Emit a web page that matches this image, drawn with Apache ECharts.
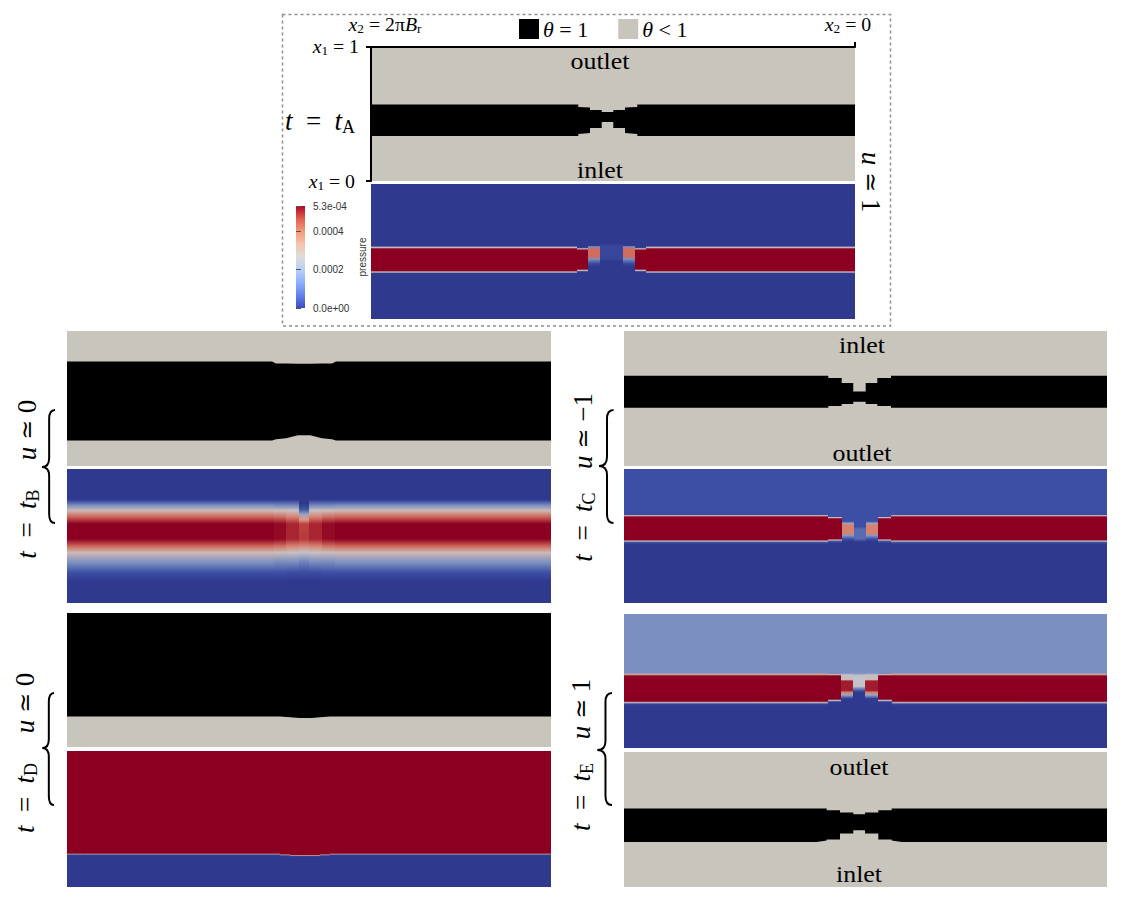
<!DOCTYPE html>
<html><head><meta charset="utf-8"><title>theta / pressure fields</title>
<script src="https://cdn.jsdelivr.net/npm/echarts@6.0.0/dist/echarts.min.js"></script>
<style>html,body{margin:0;padding:0;background:#fff;}#chart{width:1132px;height:903px;}</style>
</head><body><div id="chart"></div>
<script>
// ================= DATA =================
const pressureMax = 5.3e-4;
const colorbarTicks = [0, 0.0002, 0.0004, 0.00053];
const colorbarTickLabels = ['0.0e+00', '0.0002', '0.0004', '5.3e-04'];
const legendNames = ['θ = 1', 'θ < 1'];
const panelNames = ['A', 'B', 'C', 'D', 'E'];
const panelU = ['1', '0', '−1', '0', '1'];

// theta = 1 region: s = position across the panel (0 left .. 1 right), lo/hi = x1 bounds (0 bottom .. 1 top)
const thetaA_s  = [0, 0.4283, 0.4283, 0.4525, 0.4525, 0.4767, 0.4767, 0.5006, 0.5006, 0.5248, 0.5248, 0.5502, 0.5502, 1];
const thetaA_hi = [0.571, 0.571, 0.552, 0.549, 0.530, 0.530, 0.515, 0.515, 0.530, 0.530, 0.549, 0.552, 0.571, 0.571];
const thetaA_lo = [0.336, 0.336, 0.351, 0.358, 0.396, 0.396, 0.440, 0.440, 0.396, 0.396, 0.358, 0.351, 0.336, 0.336];

const thetaB_s  = [0, 0.4236, 0.4318, 0.4525, 0.4773, 0.5021, 0.5269, 0.5475, 0.5558, 1];
const thetaB_hi = [0.774, 0.774, 0.760, 0.759, 0.758, 0.758, 0.759, 0.760, 0.774, 0.774];
const thetaB_lo = [0.188, 0.188, 0.198, 0.205, 0.228, 0.228, 0.205, 0.198, 0.188, 0.188];

const thetaC_s  = [0, 0.4230, 0.4230, 0.4507, 0.4507, 0.4747, 0.4747, 0.5004, 0.5004, 0.5244, 0.5244, 0.5528, 0.5528, 1];
const thetaC_hi = [0.669, 0.669, 0.652, 0.652, 0.614, 0.614, 0.551, 0.551, 0.614, 0.614, 0.652, 0.652, 0.669, 0.669];
const thetaC_lo = [0.431, 0.431, 0.444, 0.444, 0.459, 0.459, 0.476, 0.476, 0.459, 0.459, 0.444, 0.444, 0.431, 0.431];

const thetaD_s  = [0, 0.440, 0.4607, 0.4814, 0.5062, 0.5227, 0.5434, 1];
const thetaD_hi = [1, 1, 1, 1, 1, 1, 1, 1];
const thetaD_lo = [0.228, 0.228, 0.222, 0.216, 0.216, 0.222, 0.228, 0.228];

const thetaE_s  = [0, 0.399, 0.4197, 0.4197, 0.4472, 0.4472, 0.4747, 0.4747, 0.4990, 0.4990, 0.5265, 0.5265, 0.5542, 0.5542, 0.575, 1];
const thetaE_hi = [0.581, 0.581, 0.581, 0.568, 0.568, 0.551, 0.551, 0.539, 0.539, 0.551, 0.551, 0.568, 0.568, 0.581, 0.581, 0.581];
const thetaE_lo = [0.333, 0.333, 0.345, 0.351, 0.351, 0.396, 0.396, 0.420, 0.420, 0.396, 0.396, 0.351, 0.351, 0.345, 0.333, 0.333];

// pressure profiles: [x1 (1 top .. 0 bottom), pressure]
const pA_far    = [[1,0],[0.541,0],[0.530,0.00028],[0.519,0.00053],[0.359,0.00053],[0.348,0.00028],[0.337,0],[0,0]];
const pA_narrow = [[1,0],[0.530,0],[0.520,0.00028],[0.510,0.00053],[0.370,0.00053],[0.360,0.00028],[0.350,0],[0,0]];
const pA_neck   = [[1,0],[0.545,0],[0.535,0.00016],[0.520,0.00042],[0.460,0.00042],[0.445,0.00016],[0.410,0.00004],[0.390,0],[0,0]];
const pA_center = [[1,0],[0.560,0],[0.545,0.00003],[0.450,0.00003],[0.430,0],[0,0]];
// columns: [s0, s1, profile index]
const pA_cols = [[0,0.4246,0],[0.4246,0.4483,1],[0.4483,0.4731,2],[0.4731,0.5207,3],[0.5207,0.5455,2],[0.5455,0.5692,1],[0.5692,1,0]];

const pB_far = [[1,0],[0.776,0],[0.765,0.00003],[0.728,0.00016],[0.690,0.0003],[0.642,0.00043],[0.590,0.00053],[0.478,0.00053],[0.427,0.00043],[0.377,0.0003],[0.302,0.00016],[0.227,0.00005],[0.164,0],[0,0]];
const pB_n1  = [[1,0],[0.776,0],[0.765,0.00003],[0.728,0.00015],[0.690,0.00029],[0.642,0.00042],[0.590,0.00052],[0.478,0.00052],[0.427,0.00042],[0.377,0.00029],[0.302,0.00015],[0.227,0.00005],[0.164,0],[0,0]];
const pB_n2  = [[1,0],[0.776,0],[0.765,0.00003],[0.728,0.00015],[0.690,0.00028],[0.642,0.0004],[0.590,0.00049],[0.478,0.00049],[0.427,0.0004],[0.377,0.00028],[0.302,0.00015],[0.227,0.00004],[0.164,0],[0,0]];
const pB_n3  = [[1,0],[0.740,0],[0.700,0.00006],[0.660,0.0002],[0.620,0.00038],[0.590,0.00046],[0.478,0.00047],[0.430,0.0004],[0.380,0.00027],[0.300,0.00013],[0.227,0.00004],[0.164,0],[0,0]];
const pB_cols = [[0,0.4269,0],[0.4269,0.4525,1],[0.4525,0.4785,2],[0.4785,0.5008,3],[0.5008,0.5269,2],[0.5269,0.5527,1],[0.5527,1,0]];

const pC_far    = [[1,0.00005],[0.660,0.00005],[0.652,0.0003],[0.642,0.00053],[0.472,0.00053],[0.462,0.00028],[0.452,0.00006],[0.440,0],[0,0]];
const pC_narrow = [[1,0.00005],[0.645,0.00005],[0.638,0.0003],[0.628,0.00053],[0.480,0.00053],[0.470,0.0003],[0.460,0.00006],[0.445,0],[0,0]];
const pC_neck   = [[1,0.00005],[0.610,0.00005],[0.595,0.0002],[0.580,0.0004],[0.520,0.0004],[0.505,0.00018],[0.480,0.00006],[0.460,0],[0,0]];
const pC_center = [[1,0.00005],[0.570,0.00005],[0.550,0.0001],[0.480,0.0001],[0.460,0.00002],[0.450,0],[0,0]];
const pC_cols = [[0,0.4224,0],[0.4224,0.4513,1],[0.4513,0.4756,2],[0.4756,0.5010,3],[0.5010,0.5259,2],[0.5259,0.5518,1],[0.5518,1,0]];

const pD_far    = [[1,0.00053],[0.248,0.00053],[0.242,0.0003],[0.236,0],[0,0]];
const pD_mid    = [[1,0.00053],[0.242,0.00053],[0.236,0.0003],[0.230,0],[0,0]];
const pD_center = [[1,0.00053],[0.236,0.00053],[0.230,0.0003],[0.224,0],[0,0]];
const pD_cols = [[0,0.440,0],[0.440,0.4607,1],[0.4607,0.5227,2],[0.5227,0.5434,1],[0.5434,1,0]];

const pE_far    = [[1,0.00016],[0.560,0.00016],[0.550,0.00033],[0.537,0.00053],[0.350,0.00053],[0.338,0.00025],[0.328,0.00002],[0.310,0],[0,0]];
const pE_narrow = [[1,0.00016],[0.555,0.00016],[0.548,0.00033],[0.538,0.00053],[0.365,0.00053],[0.355,0.00025],[0.345,0.00002],[0.330,0],[0,0]];
const pE_neck   = [[1,0.00016],[0.560,0.00016],[0.545,0.00026],[0.510,0.0003],[0.500,0.0005],[0.430,0.0005],[0.415,0.0004],[0.395,0.0002],[0.370,0.00002],[0.360,0],[0,0]];
const pE_center = [[1,0.00016],[0.560,0.00016],[0.540,0.00026],[0.460,0.00026],[0.440,0.00012],[0.420,0.00001],[0.410,0],[0,0]];
const pE_cols = [[0,0.423,0],[0.423,0.4487,1],[0.4487,0.4747,2],[0.4747,0.499,3],[0.499,0.5265,2],[0.5265,0.5542,1],[0.5542,1,0]];

// ================= STYLE / LAYOUT =================
const SERIF = "'Liberation Serif','DejaVu Serif','Times New Roman',serif";
const SANS = "'Liberation Sans','DejaVu Sans',Arial,sans-serif";
const GRAY = '#c8c5bd';
const FIELD_STOPS = [[0,[47,58,143]],[0.1,[62,80,165]],[0.3,[122,143,192]],[0.5,[196,196,202]],[0.7,[226,160,136]],[0.85,[196,76,68]],[1,[139,0,32]]];
const BAR_STOPS = [[0,'#3b4cc0'],[0.125,'#6282ea'],[0.25,'#8db0fe'],[0.375,'#b8d0f9'],[0.5,'#dddddd'],[0.625,'#f5c4ad'],[0.75,'#f49a7b'],[0.875,'#de604d'],[1,'#b40426']];

function fieldColor(p){
  const t = Math.max(0, Math.min(1, p / pressureMax));
  for (let i = 1; i < FIELD_STOPS.length; i++){
    const [t1, c1] = FIELD_STOPS[i];
    if (t <= t1 + 1e-12){
      const [t0, c0] = FIELD_STOPS[i-1];
      const u = (t - t0) / (t1 - t0);
      const c = c0.map((v, k) => Math.round(v + (c1[k] - v) * u));
      return 'rgb(' + c.join(',') + ')';
    }
  }
  return 'rgb(139,0,32)';
}

const L = {
  A_theta:[371,47,484,134], A_p:[371,184,484,135], cbar:[296,206,9,102],
  B_theta:[67,331,484,135], B_p:[67,469,484,134],
  C_theta:[624,331,483,135], C_p:[624,469,483,134],
  D_theta:[67,613,484,134], D_p:[67,751,484,136],
  E_p:[624,614,483,134], E_theta:[624,752,483,135]
};

const grids = [], xAxes = [], yAxes = [], series = [];
function addGrid(r, xo, yo){
  const gi = grids.length;
  grids.push({left:r[0], top:r[1], width:r[2], height:r[3], containLabel:false, outerBoundsMode:'none'});
  xAxes.push(Object.assign({type:'value', gridIndex:gi, min:0, max:1, show:false, splitLine:{show:false}}, xo || {}));
  yAxes.push(Object.assign({type:'value', gridIndex:gi, min:0, max:1, show:false, splitLine:{show:false}}, yo || {}));
  return gi;
}

function addTheta(gi, s, lo, hi, named){
  const bg = {type:'custom', xAxisIndex:gi, yAxisIndex:gi, silent:true, z:2,
    itemStyle:{color:GRAY}, data:[[0,0,1,1]], encode:{x:[0,2], y:[1,3]},
    renderItem:(p, api) => {
      const a = api.coord([api.value(0), api.value(3)]), b = api.coord([api.value(2), api.value(1)]);
      return {type:'rect', shape:{x:a[0], y:a[1], width:b[0]-a[0], height:b[1]-a[1]}, style:{fill:GRAY}};
    }};
  const band = {type:'custom', xAxisIndex:gi, yAxisIndex:gi, silent:true, z:3,
    itemStyle:{color:'#000'}, data:s.map((v,i) => [v, lo[i], hi[i]]), encode:{x:0, y:[1,2]},
    renderItem:(p, api) => {
      if (p.dataIndexInside !== 0) return null;
      const n = p.dataInsideLength, top = [], bot = [];
      for (let i = 0; i < n; i++){
        top.push(api.coord([api.value(0,i), api.value(2,i)]));
        bot.push(api.coord([api.value(0,i), api.value(1,i)]));
      }
      return {type:'polygon', shape:{points: top.concat(bot.reverse())}, style:{fill:'#000'}};
    }};
  if (named){ bg.name = legendNames[1]; band.name = legendNames[0]; }
  series.push(bg, band);
}

function addPressure(gi, cols, profiles){
  series.push({type:'custom', xAxisIndex:gi, yAxisIndex:gi, silent:true, z:2,
    data: cols, dimensions:['s0','s1','k'], encode:{x:[0,1]},
    renderItem:(p, api) => {
      const s0 = api.value(0), s1 = api.value(1), k = api.value(2);
      const a = api.coord([s0, 1]), b = api.coord([s1, 0]);
      const x0 = Math.round(a[0]), x1 = Math.round(b[0]);
      const stops = profiles[k].map(([f, pr]) => ({offset: 1 - f, color: fieldColor(pr)}));
      return {type:'rect', shape:{x:x0, y:a[1], width:x1 - x0, height:b[1]-a[1]},
        style:{fill: new echarts.graphic.LinearGradient(0,0,0,1, stops)}};
    }});
}

// panel A (with axes)
const gA = addGrid(L.A_theta,
  {show:true, position:'top', z:10, axisLine:{show:true, onZero:false, lineStyle:{color:'#000', width:2}},
   axisTick:{show:true, customValues:[1], length:5, lineStyle:{color:'#000', width:2}}, axisLabel:{show:false}},
  {show:true, position:'left', z:10, axisLine:{show:true, onZero:false, lineStyle:{color:'#000', width:2}},
   axisTick:{show:true, customValues:[0,1], length:5, lineStyle:{color:'#000', width:2}}, axisLabel:{show:false}});
addTheta(gA, thetaA_s, thetaA_lo, thetaA_hi, true);
addPressure(addGrid(L.A_p), pA_cols, [pA_far, pA_narrow, pA_neck, pA_center]);

// colour bar
const gBar = addGrid(L.cbar, {}, {
  show:true, position:'right', min:0, max:pressureMax, z:10,
  axisLine:{show:false}, splitLine:{show:false},
  axisTick:{show:true, customValues:colorbarTicks, length:5, lineStyle:{color:'#555', width:1}},
  axisLabel:{show:true, customValues:colorbarTicks, margin:8, fontSize:10, fontFamily:SANS, color:'#333',
    formatter:(v) => { const i = colorbarTicks.findIndex(t => Math.abs(t - v) < 1e-9); return i >= 0 ? colorbarTickLabels[i] : ''; }},
  name:'pressure', nameLocation:'middle', nameRotate:90, nameGap:52,
  nameTextStyle:{fontSize:10, fontFamily:SANS, color:'#333'}
});
series.push({type:'custom', xAxisIndex:gBar, yAxisIndex:gBar, silent:true, data:[[0, 0, 1, pressureMax]], encode:{x:[0,2], y:[1,3]},
  renderItem:(p, api) => {
    const a = api.coord([api.value(0), api.value(3)]), b = api.coord([api.value(2), api.value(1)]);
    const stops = BAR_STOPS.map(([t, c]) => ({offset: 1 - t, color: c})).reverse();
    return {type:'rect', shape:{x:a[0], y:a[1], width:b[0]-a[0], height:b[1]-a[1]}, style:{fill:new echarts.graphic.LinearGradient(0,0,0,1,stops)}};
  }});

addTheta(addGrid(L.B_theta), thetaB_s, thetaB_lo, thetaB_hi, false);
addPressure(addGrid(L.B_p), pB_cols, [pB_far, pB_n1, pB_n2, pB_n3]);
addTheta(addGrid(L.C_theta), thetaC_s, thetaC_lo, thetaC_hi, false);
addPressure(addGrid(L.C_p), pC_cols, [pC_far, pC_narrow, pC_neck, pC_center]);
addTheta(addGrid(L.D_theta), thetaD_s, thetaD_lo, thetaD_hi, false);
addPressure(addGrid(L.D_p), pD_cols, [pD_far, pD_mid, pD_center]);
addPressure(addGrid(L.E_p), pE_cols, [pE_far, pE_narrow, pE_neck, pE_center]);
addTheta(addGrid(L.E_theta), thetaE_s, thetaE_lo, thetaE_hi, false);

// ---------- text / annotations ----------
function rs(size){
  const sub = Math.round(size * 0.68), pad = Math.round(size * 0.42);
  const base = {fill:'#000', color:'#000'};
  return {
    i: Object.assign({fontFamily:SERIF, fontStyle:'italic', fontSize:size}, base),
    r: Object.assign({fontFamily:SERIF, fontSize:size}, base),
    m: Object.assign({fontFamily:"'DejaVu Serif',serif", fontSize:Math.round(size*0.9)}, base),
    sr: Object.assign({fontFamily:SERIF, fontSize:sub, padding:[pad,0,0,0]}, base)
  };
}
function gtext(x, y, text, size, rot, align, sx){
  return {type:'text', x:x, y:y, z:100, rotation:rot || 0, scaleX:sx || 1,
    style:{text:text, rich:rs(size), fontSize:size, fontFamily:SERIF, fill:'#000',
      align:align || 'center', verticalAlign:'middle', textAlign:align || 'center', textVerticalAlign:'middle'}};
}
const EN = '\u2002';
function tEq(n){ return '{i|t}{r|' + EN + '=' + EN + '}{i|t}{sr|' + n + '}'; }
function uEq(v){ return '{i|u}{r| }{m|≃}{r| ' + v + '}'; }

function brace(xl, xr, y0, ym, y1){
  const xm = xl + (xr - xl) * 0.55, h = 9;
  const st = {stroke:'#000', lineWidth:2, fill:null};
  return [
    {type:'bezierCurve', z:100, shape:{x1:xr, y1:y0, x2:xm, y2:y0+h, cpx1:xm, cpy1:y0}, style:st},
    {type:'line', z:100, shape:{x1:xm, y1:y0+h, x2:xm, y2:ym-h}, style:st},
    {type:'bezierCurve', z:100, shape:{x1:xm, y1:ym-h, x2:xl, y2:ym, cpx1:xm, cpy1:ym}, style:st},
    {type:'bezierCurve', z:100, shape:{x1:xl, y1:ym, x2:xm, y2:ym+h, cpx1:xm, cpy1:ym}, style:st},
    {type:'line', z:100, shape:{x1:xm, y1:ym+h, x2:xm, y2:y1-h}, style:st},
    {type:'bezierCurve', z:100, shape:{x1:xm, y1:y1-h, x2:xr, y2:y1, cpx1:xm, cpy1:y1}, style:st}
  ];
}

const graphics = [
  {type:'rect', z:1, shape:{x:282.5, y:14.5, width:608, height:311.5}, style:{fill:null, stroke:'#8f8f8f', lineWidth:1.5, lineDash:[3,3]}},
  gtext(385, 25, '{i|x}{sr|2}{r| = 2π}{i|B}{sr|r}', 18, 0, 'center', 1.1),
  gtext(848, 25, '{i|x}{sr|2}{r| = 0}', 18, 0, 'center', 1.1),
  gtext(359, 47, '{i|x}{sr|1}{r| = 1}', 18, 0, 'right', 1.1),
  gtext(355, 182, '{i|x}{sr|1}{r| = 0}', 18, 0, 'right', 1.1),
  gtext(320, 121, tEq(panelNames[0]), 27),
  gtext(871, 182, uEq(panelU[0]), 27, -Math.PI/2),
  gtext(600, 61, '{r|outlet}', 24, 0, 'center', 1.08),
  gtext(600, 170, '{r|inlet}', 24, 0, 'center', 1.08),
  gtext(862, 345, '{r|inlet}', 24, 0, 'center', 1.08),
  gtext(862, 453, '{r|outlet}', 24, 0, 'center', 1.08),
  gtext(859, 767, '{r|outlet}', 24, 0, 'center', 1.08),
  gtext(859, 874, '{r|inlet}', 24, 0, 'center', 1.08),
  gtext(27, 524, tEq(panelNames[1]), 27, Math.PI/2),
  gtext(27, 430, uEq(panelU[1]), 27, Math.PI/2),
  gtext(583, 527, tEq(panelNames[2]), 27, Math.PI/2),
  gtext(583, 431, uEq(panelU[2]), 27, Math.PI/2),
  gtext(25, 798, tEq(panelNames[3]), 27, Math.PI/2),
  gtext(25, 703, uEq(panelU[3]), 27, Math.PI/2),
  gtext(581, 797, tEq(panelNames[4]), 27, Math.PI/2),
  gtext(581, 709, uEq(panelU[4]), 27, Math.PI/2)
].concat(brace(42, 55, 410, 467, 523), brace(599, 613.5, 410, 466, 523),
         brace(42.5, 54, 693, 748, 805), brace(597.5, 612, 693, 750, 805));

const chart = echarts.init(document.getElementById('chart'), null, {renderer:'svg'});
chart.setOption({
  animation:false,
  backgroundColor:'#fff',
  legend:{left:519, top:18, padding:0, itemWidth:20, itemHeight:20, itemGap:30, icon:'rect', selectedMode:false,
    data:legendNames,
    formatter:(n) => n === legendNames[0] ? '{i|θ}{r| = 1}' : '{i|θ}{r| < 1}',
    textStyle:{fontSize:22, fontFamily:SERIF, color:'#000', padding:[0,0,0,-1],
      rich:{i:{fontStyle:'italic', fontSize:22, fontFamily:SERIF, color:'#000'}, r:{fontSize:22, fontFamily:SERIF, color:'#000'}}}},
  grid:grids, xAxis:xAxes, yAxis:yAxes, series:series, graphic:{elements:graphics}
});
</script></body></html>
